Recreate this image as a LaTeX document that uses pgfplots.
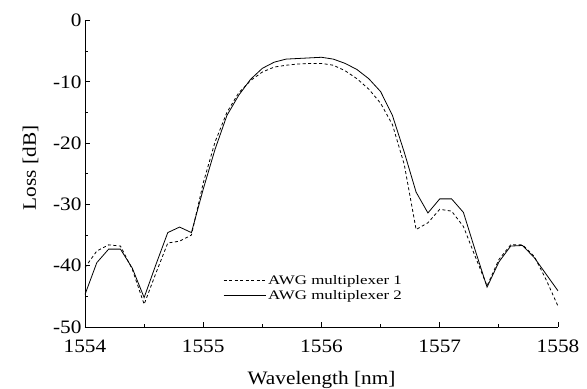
\documentclass[border=0pt]{standalone}
\usepackage{pgfplots}
\pgfplotsset{compat=1.18}
\usepackage{fontspec}
\setmainfont[FakeStretch=1.12]{Liberation Serif}
\newfontfamily\legfont[FakeStretch=1.3]{Liberation Serif}
\newcommand\bigf{\fontsize{19}{22}\selectfont}
\begin{document}
\begin{tikzpicture}
\begin{axis}[
  name=ax,
  scale only axis,
  width=473pt, height=306.5pt,
  xmin=1554, xmax=1558, ymin=-50, ymax=0,
  axis x line*=bottom, axis y line*=left,
  axis line style={line width=0.8pt},
  xtick={1554,1555,1556,1557,1558},
  xticklabels={1554,1555,1556,1557,1558},
  ytick={-50,-40,-30,-20,-10,0},
  yticklabels={-50,-40,-30,-20,-10,0},
  minor x tick num=1, minor y tick num=1,
  tick align=inside,
  major tick length=5pt, minor tick length=3pt,
  tick style={line width=0.8pt, black},
  ticklabel style={font=\bigf},
  xticklabel style={yshift=-9pt},
  xlabel={Wavelength [nm]},
  ylabel={Loss [dB]},
  every axis x label/.style={at={(axis description cs:0.5,-0.189)}, anchor=base, font=\bigf},
  every axis y label/.style={at={(axis description cs:-0.091,0.519)}, anchor=south, rotate=90, font=\bigf},
  legend style={at={(axis description cs:0.292,0.127)}, anchor=west, draw=none, fill=none, inner sep=0pt, font=\legfont\fontsize{13}{15}\selectfont, row sep=1pt},
  legend cell align=left,
  legend image code/.code={\draw[#1] (0pt,0pt) -- (42pt,0pt);},
]
\addplot[black, line width=0.8pt, dash pattern=on 3pt off 2.5pt] coordinates {
(1554.0,-40.3) (1554.1,-37.6) (1554.2,-36.6) (1554.3,-36.8) (1554.4,-40.6)
(1554.5,-46.3) (1554.6,-41.2) (1554.7,-36.3) (1554.8,-36.0) (1554.9,-35.0)
(1555.0,-26.5) (1555.1,-19.8) (1555.2,-15.0) (1555.3,-11.8) (1555.4,-9.8)
(1555.5,-8.4) (1555.6,-7.6) (1555.7,-7.3) (1555.8,-7.1) (1555.9,-7.0)
(1556.0,-7.0) (1556.1,-7.3) (1556.2,-8.2) (1556.3,-9.5) (1556.4,-11.2)
(1556.5,-13.5) (1556.6,-17.0) (1556.7,-23.5) (1556.8,-34.1) (1556.9,-33.0)
(1557.0,-30.8) (1557.1,-31.1) (1557.2,-33.6) (1557.3,-38.5) (1557.4,-43.3)
(1557.5,-39.0) (1557.6,-36.6) (1557.7,-36.6) (1557.8,-38.5) (1557.9,-42.3)
(1558.0,-46.6)
};
\addlegendentry{AWG multiplexer 1}
\addplot[black, line width=0.8pt] coordinates {
(1554.0,-44.7) (1554.1,-39.5) (1554.2,-37.3) (1554.3,-37.3) (1554.4,-40.4)
(1554.5,-45.2) (1554.6,-39.8) (1554.7,-34.6) (1554.8,-33.7) (1554.9,-34.6)
(1555.0,-27.5) (1555.1,-21.0) (1555.2,-15.5) (1555.3,-12.2) (1555.4,-9.6)
(1555.5,-7.8) (1555.6,-6.8) (1555.7,-6.3) (1555.8,-6.2) (1555.9,-6.1)
(1556.0,-6.0) (1556.1,-6.3) (1556.2,-7.0) (1556.3,-8.0) (1556.4,-9.5)
(1556.5,-11.6) (1556.6,-15.5) (1556.7,-21.5) (1556.8,-28.0) (1556.9,-31.4)
(1557.0,-29.1) (1557.1,-29.1) (1557.2,-31.3) (1557.3,-37.5) (1557.4,-43.5)
(1557.5,-39.4) (1557.6,-36.8) (1557.7,-36.7) (1557.8,-38.7) (1557.9,-41.4)
(1558.0,-44.1)
};
\addlegendentry{AWG multiplexer 2}
\end{axis}
\pgfresetboundingbox
\path[use as bounding box] ([xshift=-85pt,yshift=-62pt]ax.south west) rectangle ([xshift=29pt,yshift=20.5pt]ax.north east);
\end{tikzpicture}
\end{document}
